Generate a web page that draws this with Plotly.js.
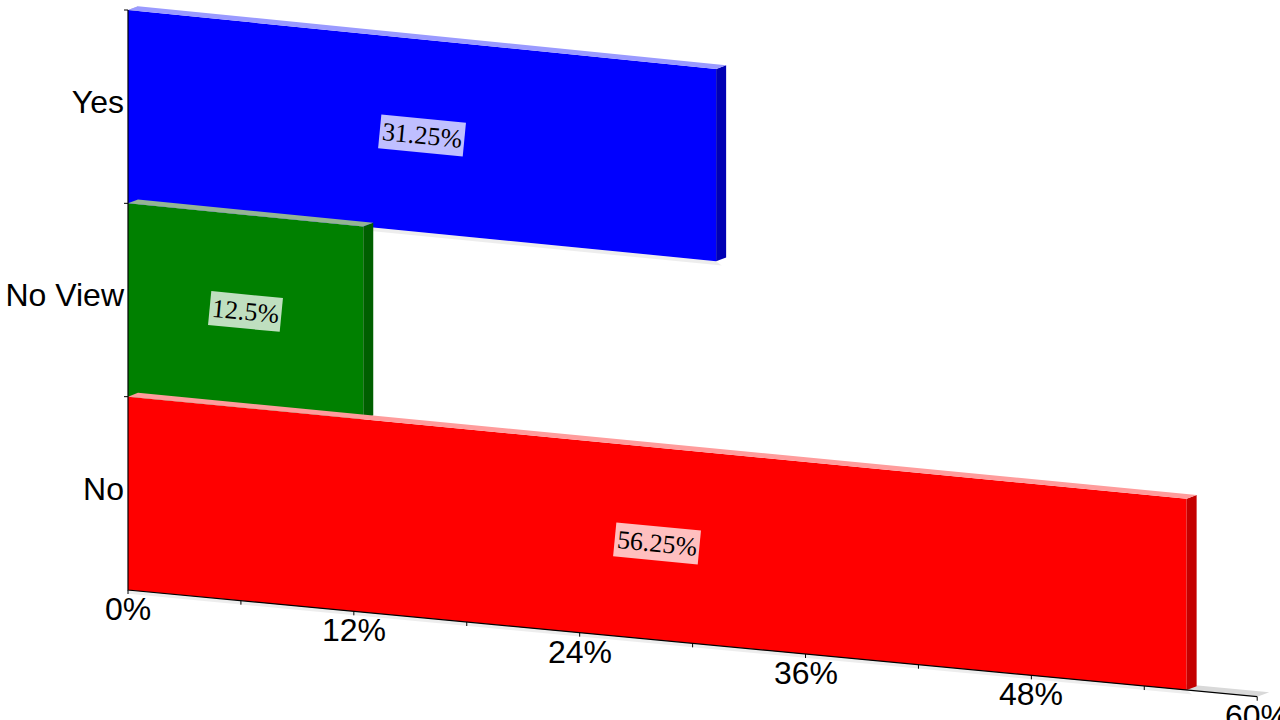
<!DOCTYPE html>
<html>
<head>
<meta charset="utf-8">
<script src="https://cdn.plot.ly/plotly-3.0.1.min.js"></script>
<style>
  html, body { margin: 0; padding: 0; background: #ffffff; }
  #chart { width: 1280px; height: 720px; }
</style>
</head>
<body>
<div id="chart"></div>
<script>
// ---------------- data ----------------
const categories = ['No', 'No View', 'Yes'];
const values = [56.25, 12.5, 31.25];
const valueLabels = ['56.25%', '12.5%', '31.25%'];
const frontColors = ['#ff0000', '#008000', '#0000ff'];
const topColors = ['#ff9c9c', '#94b494', '#9a9aff'];
const sideColors = ['#c40000', '#005f00', '#0000b4'];
const tickValues = [0, 12, 24, 36, 48, 60];
const tickLabels = ['0%', '12%', '24%', '36%', '48%', '60%'];
const tickMarks = [0, 6, 12, 18, 24, 30, 36, 42, 48, 54, 60];
const axisMax = 60;

// ---------------- view geometry (oblique 3D look) ----------------
const PX_PER_PCT = 18.82;     // horizontal pixels per percent
const PX_PER_CAT = 193.33;    // vertical pixels per category band
const SLOPE_BOTTOM = 0.0945;  // downward slope of the value axis at the floor
const SLOPE_TOP = 0.1003;     // downward slope at the top of the plot (slight perspective)
const DX = 10 / PX_PER_PCT;   // depth offset (x)
const DY = 3.8 / PX_PER_CAT;  // depth offset (y)
const X0 = -128 / PX_PER_PCT, X1 = 1152 / PX_PER_PCT;
const Y0 = -0.5 - 130 / PX_PER_CAT, Y1 = 2.5 + 10 / PX_PER_CAT;
const NCAT = categories.length;

function shear(c) {
  const f = (c + 0.5) / NCAT;
  return (SLOPE_BOTTOM + f * (SLOPE_TOP - SLOPE_BOTTOM)) * PX_PER_PCT / PX_PER_CAT;
}
function P(v, c, d) { return [v + d * DX, c - shear(c) * v + d * DY]; }

function poly(pts, color) {
  return {
    type: 'scatter', mode: 'lines',
    x: pts.map(p => p[0]), y: pts.map(p => p[1]),
    fill: 'toself', fillcolor: color,
    line: { width: 0, color: color },
    hoverinfo: 'skip', showlegend: false
  };
}

const traces = [];
const lo0 = -0.5, hi0 = NCAT - 0.5;

// back wall and floor
traces.push(poly([P(0, lo0, 0), P(0, hi0, 0), P(0, hi0, 1), P(0, lo0, 1)], '#c8c8c8'));
traces.push(poly([P(0, lo0, 0), P(axisMax, lo0, 0), P(axisMax, lo0, 1.2), P(0, lo0, 1.2)], '#d9d9d9'));

// bars: top category first so lower bars' top faces overlay the seam
for (let i = NCAT - 1; i >= 0; i--) {
  const v = values[i], lo = i - 0.5, hi = i + 0.5;
  traces.push(poly([P(0, lo, 0), P(v, lo, 0), P(v + 0.3, lo - 0.02, 0), P(0, lo - 0.02, 0)], 'rgba(0,0,0,0.07)'));
  traces.push(poly([P(0, lo, 0), P(v, lo, 0), P(v, hi, 0), P(0, hi, 0)], frontColors[i]));
  traces.push(poly([P(v, lo, 0), P(v, lo, 1), P(v, hi, 1), P(v, hi, 0)], sideColors[i]));
  traces.push(poly([P(0, hi, 0), P(v, hi, 0), P(v, hi, 1), P(0, hi, 1)], topColors[i]));
}

// axis lines
const axisX = [P(0, hi0, 0)[0], P(0, lo0, 0)[0], P(axisMax, lo0, 0)[0]];
const axisY = [P(0, hi0, 0)[1], P(0, lo0, 0)[1], P(axisMax, lo0, 0)[1]];
traces.push({ type: 'scatter', mode: 'lines', x: axisX, y: axisY,
  line: { color: '#000000', width: 1.2 }, hoverinfo: 'skip', showlegend: false });

// value tick marks and category tick marks
const tx = [], ty = [];
tickMarks.forEach(t => {
  const a = P(t, lo0, 0);
  tx.push(a[0], a[0], null);
  ty.push(a[1], a[1] - 4 / PX_PER_CAT, null);
});
for (let c = lo0 + 1; c <= hi0; c += 1) {
  tx.push(-4 / PX_PER_PCT, 0, null);
  ty.push(c, c, null);
}
traces.push({ type: 'scatter', mode: 'lines', x: tx, y: ty,
  line: { color: '#000000', width: 1 }, hoverinfo: 'skip', showlegend: false });

// annotations: value labels and value-axis tick labels
const annotations = [];
values.forEach((v, i) => {
  const c = P(v / 2, i, 0);
  annotations.push({
    x: c[0], y: c[1], xref: 'x', yref: 'y', text: valueLabels[i], showarrow: false,
    xanchor: 'center', yanchor: 'middle', textangle: 5.5,
    font: { family: 'Liberation Serif, Times New Roman, serif', size: 26, color: '#000000' },
    bgcolor: 'rgba(255,255,255,0.75)', borderpad: 2
  });
});
tickValues.forEach((t, k) => {
  const a = P(t, lo0, 0);
  annotations.push({
    x: a[0], y: a[1] - 19 / PX_PER_CAT, xref: 'x', yref: 'y', text: tickLabels[k],
    showarrow: false, xanchor: 'center', yanchor: 'middle',
    font: { family: 'Liberation Sans, Arial, sans-serif', size: 32, color: '#000000' }
  });
});

const layout = {
  width: 1280, height: 720,
  margin: { l: 0, r: 0, t: 0, b: 0 },
  paper_bgcolor: '#ffffff', plot_bgcolor: 'rgba(0,0,0,0)',
  showlegend: false,
  xaxis: { range: [X0, X1], visible: false, fixedrange: true },
  yaxis: {
    range: [Y0, Y1], anchor: 'free', position: 128 / 1280,
    tickvals: categories.map((_, i) => i), ticktext: categories,
    showgrid: false, zeroline: false, showline: false, ticks: '',
    ticklabelstandoff: 4, ticklabelshift: -5,
    tickfont: { family: 'Liberation Sans, Arial, sans-serif', size: 32, color: '#000000' },
    fixedrange: true
  },
  annotations: annotations
};

Plotly.newPlot('chart', traces, layout, { displayModeBar: false, staticPlot: true });
</script>
</body>
</html>
